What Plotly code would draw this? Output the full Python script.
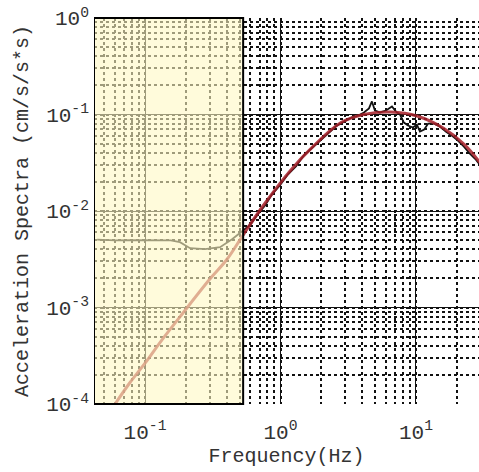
import math
import plotly.graph_objects as go

# Observed spectrum (Hz, cm/s/s*s)
obs_freq = [0.0443, 0.0600, 0.0775, 0.100, 0.129, 0.155, 0.181, 0.215, 0.277, 0.358, 0.439, 0.528,
            0.596, 0.682, 0.769, 0.866, 0.992, 1.136, 1.30, 1.49, 1.71, 1.96, 2.24, 2.57, 2.94,
            3.37, 3.73, 4.13, 4.50, 4.73, 4.98, 5.42, 6.01, 6.65, 7.12, 7.62, 8.15, 8.73, 9.50,
            10.17, 10.7, 11.5, 12.3, 13.6, 15.0, 16.6, 18.4, 20.4, 22.6, 25.0, 27.7, 29.2]
obs_amp = [0.00505, 0.00495, 0.00500, 0.00498, 0.00499, 0.00497, 0.00475, 0.00412, 0.00402, 0.00422,
           0.00510, 0.00620,
           0.00715, 0.0093, 0.0114, 0.0149, 0.0185, 0.0240, 0.0290, 0.0378, 0.0450, 0.0540, 0.0645,
           0.0755, 0.0840, 0.0935, 0.0970, 0.1050, 0.1155, 0.1366, 0.1100, 0.1050, 0.1100, 0.1210,
           0.1070, 0.1000, 0.0825, 0.0768, 0.0732, 0.0787, 0.0665, 0.0698, 0.0805, 0.0805, 0.0750,
           0.0665, 0.0604, 0.0536, 0.0464, 0.0392, 0.0340, 0.0309]

# Model spectrum
model_freq = [0.0601, 0.077, 0.100, 0.133, 0.181, 0.300, 0.403, 0.528, 0.740, 1.19, 1.75, 2.78,
              4.10, 6.50, 10.3, 16.0, 22.7, 29.5]
model_amp = [0.00010, 0.000165, 0.000265, 0.00046, 0.00080, 0.00196, 0.00316, 0.00560, 0.0112,
             0.0265, 0.0470, 0.0820, 0.1000, 0.1060, 0.0960, 0.0720, 0.0490, 0.0320]

# Shaded band
band_lo = 0.042
band_hi = 0.53

x_range = [0.042, 29.2]
y_range = [1e-4, 1.0]

x_tickvals = [0.1, 1, 10]
x_ticktext = ["10<sup>-1</sup>", "10<sup>0</sup>", "10<sup>1</sup>"]
y_tickvals = [1e-4, 1e-3, 1e-2, 1e-1, 1]
y_ticktext = ["10<sup>-4</sup>", "10<sup>-3</sup>", "10<sup>-2</sup>", "10<sup>-1</sup>", "10<sup>0</sup>"]

FONT = "Liberation Mono"
TXT = "#333333"

fig = go.Figure()
fig.add_trace(go.Scatter(x=obs_freq, y=obs_amp, mode="lines",
                         line=dict(color="#111111", width=1.8), showlegend=False))
fig.add_trace(go.Scatter(x=model_freq, y=model_amp, mode="lines", line_shape="spline",
                         line=dict(color="rgba(165,30,40,0.85)", width=3), showlegend=False))

fig.add_shape(type="rect", xref="x", yref="paper", x0=band_lo, x1=band_hi, y0=0, y1=1,
              fillcolor="rgba(255,248,195,0.6)", line=dict(color="black", width=2),
              layer="above")

grid_major = dict(showgrid=True, gridcolor="#111111", gridwidth=1.2)
grid_minor = dict(dtick="D1", showgrid=True, gridcolor="#111111", griddash="dot", gridwidth=1.5)

fig.update_xaxes(type="log", range=[math.log10(x_range[0]), math.log10(x_range[1])],
                 tickvals=x_tickvals, ticktext=x_ticktext, automargin=False,
                 ticklabeloverflow="allow",
                 minor=grid_minor, **grid_major,
                 showline=False, zeroline=False, ticks="",
                 tickfont=dict(family=FONT, size=21, color=TXT),
                 ticklabelstandoff=13,
                 title=dict(text="Frequency(Hz)", font=dict(family=FONT, size=20, color=TXT),
                            standoff=0))
fig.update_yaxes(type="log", range=[math.log10(y_range[0]), math.log10(y_range[1])],
                 tickvals=y_tickvals, ticktext=y_ticktext, automargin=False,
                 ticklabeloverflow="allow",
                 minor=grid_minor, **grid_major,
                 showline=False, zeroline=False, ticks="",
                 tickfont=dict(family=FONT, size=21, color=TXT),
                 ticklabelstandoff=4,
                 title=dict(text="Acceleration Spectra (cm/s/s*s)",
                            font=dict(family=FONT, size=20, color=TXT), standoff=12))

fig.update_layout(width=479, height=472, margin=dict(l=94, r=0, t=18, b=68),
                  paper_bgcolor="white", plot_bgcolor="white", showlegend=False)

fig.write_html("out.html", config={"displayModeBar": False},
               post_script="document.body.style.margin='0';")
